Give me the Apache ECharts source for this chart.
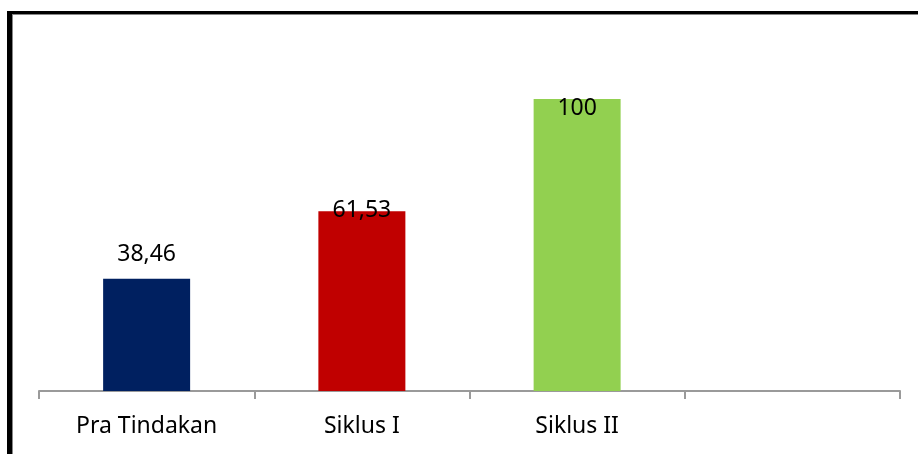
<!DOCTYPE html>
<html>
<head>
<meta charset="utf-8">
<script src="https://cdn.jsdelivr.net/npm/echarts@6/dist/echarts.min.js"></script>
<style>
  html, body { margin: 0; padding: 0; background: #fff; }
  #main { width: 918px; height: 454px; }
</style>
</head>
<body>
<div id="main"></div>
<script>
// kategori (yang terakhir kosong seperti di gambar)
let categories = ['Pra Tindakan', 'Siklus I', 'Siklus II', ''];
let values = [38.46, 61.53, 100];
let barColors = ['#002060', '#c00000', '#92d050'];
// jarak label dari ujung batang
let labelDistance = [13, -11, -21];

let myChart = echarts.init(document.getElementById('main'));

let seriesData = values.map(function (v, i) {
    return {
        value: v,
        itemStyle: { color: barColors[i] },
        label: { distance: labelDistance[i] }
    };
});

let option = {
    backgroundColor: '#fff',
    animation: false,
    grid: { left: 39, right: 18, top: 99, bottom: 63 },
    xAxis: {
        type: 'category',
        data: categories,
        axisLine: { lineStyle: { color: '#9a9a9a', width: 2 } },
        axisTick: { show: true, length: 8, lineStyle: { color: '#9a9a9a', width: 2 } },
        axisLabel: {
            margin: 24,
            color: '#000',
            fontSize: 23,
            fontFamily: 'Noto Sans'
        }
    },
    yAxis: {
        type: 'value',
        min: 0,
        max: 100,
        show: false
    },
    series: [{
        type: 'bar',
        barWidth: 87,
        data: seriesData,
        label: {
            show: true,
            position: 'top',
            color: '#000',
            fontSize: 23,
            fontFamily: 'Noto Sans',
            formatter: function (p) {
                return String(p.value).replace('.', ',');
            }
        }
    }],
    // bingkai hitam kiri dan atas
    graphic: [
        { type: 'rect', shape: { x: 7, y: 11, width: 5, height: 443 }, style: { fill: '#000' } },
        { type: 'rect', shape: { x: 7, y: 11, width: 911, height: 3 }, style: { fill: '#000' } },
        { type: 'line', shape: { x1: 12, y1: 14.5, x2: 918, y2: 14.5 }, style: { stroke: '#888', lineWidth: 1 } },
        { type: 'line', shape: { x1: 12.5, y1: 14, x2: 12.5, y2: 454 }, style: { stroke: '#888', lineWidth: 1 } }
    ]
};
myChart.setOption(option);
</script>
</body>
</html>
